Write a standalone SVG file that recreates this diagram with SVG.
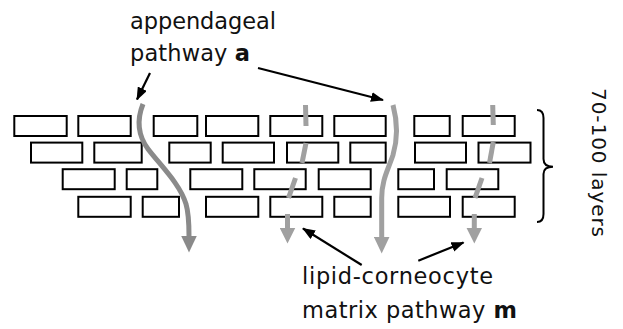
<svg xmlns="http://www.w3.org/2000/svg" width="623" height="329" viewBox="0 0 623 329">
<style>
.b{fill:#fff;stroke:#000;stroke-width:2}
.g1{fill:none;stroke:#8a8a8a;stroke-width:5}
.g2{fill:none;stroke:#a0a0a0;stroke-width:5}
.k{fill:none;stroke:#000;stroke-width:2.2}
.t{font-family:"DejaVu Sans",Verdana,sans-serif;font-size:22.5px;fill:#111}
.bold{font-weight:bold}
</style>
<defs>
<marker id="hk" markerUnits="userSpaceOnUse" viewBox="0 0 13 10" markerWidth="13" markerHeight="10" refX="12" refY="5" orient="auto"><path d="M0,0 L13,5 L0,10 z" fill="#000"/></marker>
<marker id="hg1" markerUnits="userSpaceOnUse" viewBox="0 0 17 16" markerWidth="17" markerHeight="16" refX="0.5" refY="8" orient="auto"><path d="M0,0 L17,8 L0,16 z" fill="#8a8a8a"/></marker>
<marker id="hg3" markerUnits="userSpaceOnUse" viewBox="0 0 17 16" markerWidth="17" markerHeight="16" refX="0.5" refY="8" orient="auto"><path d="M0,0 L17,8 L0,16 z" fill="#a0a0a0"/></marker>
<marker id="hg2" markerUnits="userSpaceOnUse" viewBox="0 0 16 16" markerWidth="16" markerHeight="16" refX="0.5" refY="8" orient="auto"><path d="M0,0 L16,8 L0,16 z" fill="#a0a0a0"/></marker>
</defs>
<g id="bricks">
<g id="row1">
<rect class="b" x="14.3" y="116" width="52.4" height="20"/>
<rect class="b" x="78.3" y="116" width="52.4" height="20"/>
<rect class="b" x="153.7" y="116" width="43.6" height="20"/>
<rect class="b" x="206" y="116" width="52.3" height="20"/>
<rect class="b" x="270.3" y="116" width="52" height="20"/>
<rect class="b" x="334.3" y="116" width="51.4" height="20"/>
<rect class="b" x="414.3" y="116" width="35.4" height="20"/>
<rect class="b" x="462.7" y="116" width="52" height="20"/>
</g>
<g id="row2">
<rect class="b" x="31" y="142.6" width="51.3" height="20"/>
<rect class="b" x="94.3" y="142.6" width="47.4" height="20"/>
<rect class="b" x="169.3" y="142.6" width="41.4" height="20"/>
<rect class="b" x="222.7" y="142.6" width="51.3" height="20"/>
<rect class="b" x="287" y="142.6" width="51.3" height="20"/>
<rect class="b" x="350.3" y="142.6" width="35.4" height="20"/>
<rect class="b" x="415" y="142.6" width="51" height="20"/>
<rect class="b" x="478.5" y="142.6" width="52" height="20"/>
</g>
<g id="row3">
<rect class="b" x="62.7" y="169.2" width="52" height="20"/>
<rect class="b" x="126.7" y="169.2" width="30.6" height="20"/>
<rect class="b" x="190.3" y="169.2" width="52" height="20"/>
<rect class="b" x="254.3" y="169.2" width="51.4" height="20"/>
<rect class="b" x="318.7" y="169.2" width="52" height="20"/>
<rect class="b" x="398.3" y="169.2" width="35.7" height="20"/>
<rect class="b" x="446.7" y="169.2" width="51.6" height="20"/>
</g>
<g id="row4">
<rect class="b" x="78.3" y="196.8" width="52.4" height="20"/>
<rect class="b" x="142.7" y="196.8" width="36.3" height="20"/>
<rect class="b" x="206" y="196.8" width="52.3" height="20"/>
<rect class="b" x="270.3" y="196.8" width="52" height="20"/>
<rect class="b" x="334.3" y="196.8" width="36.4" height="20"/>
<rect class="b" x="398.3" y="196.8" width="51.7" height="20"/>
<rect class="b" x="462.7" y="196.8" width="52" height="20"/>
</g>
</g>
<g id="pathways">
<path id="path-a1" class="g1" d="M143,104 C137,119 137,134 148,149 C161,166 180,184 186,204 C189,214 189,224 189,236" marker-end="url(#hg1)"/>
<path id="path-a2" class="g2" d="M393,105 C397,120 398,138 393,155 C388,170 381.7,180 381.7,198 L381.7,237" marker-end="url(#hg3)"/>
<g id="path-m1" class="g2">
<line x1="305.5" y1="105" x2="306" y2="126"/>
<line x1="306" y1="143" x2="302" y2="163"/>
<line x1="295.5" y1="178" x2="288.5" y2="198"/>
<line x1="287.5" y1="214" x2="287.5" y2="228" marker-end="url(#hg2)"/>
</g>
<g id="path-m2" class="g2">
<line x1="492.7" y1="105" x2="493.3" y2="125"/>
<line x1="493.3" y1="142" x2="489.5" y2="163"/>
<line x1="482" y1="178" x2="475" y2="198"/>
<line x1="474.3" y1="214" x2="474.3" y2="228" marker-end="url(#hg2)"/>
</g>
</g>
<g id="connectors">
<line class="k" x1="150" y1="73" x2="137" y2="99.5" marker-end="url(#hk)"/>
<line class="k" x1="258" y1="68" x2="383" y2="100" marker-end="url(#hk)"/>
<line class="k" x1="361.7" y1="265" x2="303" y2="228.5" marker-end="url(#hk)"/>
<line class="k" x1="418.3" y1="260.7" x2="463.5" y2="242.5" marker-end="url(#hk)"/>
</g>
<g id="brace">
<path d="M537,110 Q543.5,110 543.5,118 L543.5,159 Q543.5,166.7 553,166.7 Q543.5,166.7 543.5,174 L543.5,214 Q543.5,222 537,222" fill="none" stroke="#000" stroke-width="2"/>
</g>
<g id="labels">
<text class="t" x="130" y="29" textLength="146" lengthAdjust="spacing">appendageal</text>
<text class="t" x="130" y="61" textLength="120" lengthAdjust="spacing">pathway <tspan class="bold">a</tspan></text>
<text class="t" x="302" y="284" textLength="191" lengthAdjust="spacing">lipid-corneocyte</text>
<text class="t" x="302" y="318" textLength="215" lengthAdjust="spacing">matrix pathway <tspan class="bold">m</tspan></text>
<text class="t" transform="translate(591.5,88) rotate(90)" style="font-size:20px" textLength="149" lengthAdjust="spacing">70-100 layers</text>
</g>
</svg>
